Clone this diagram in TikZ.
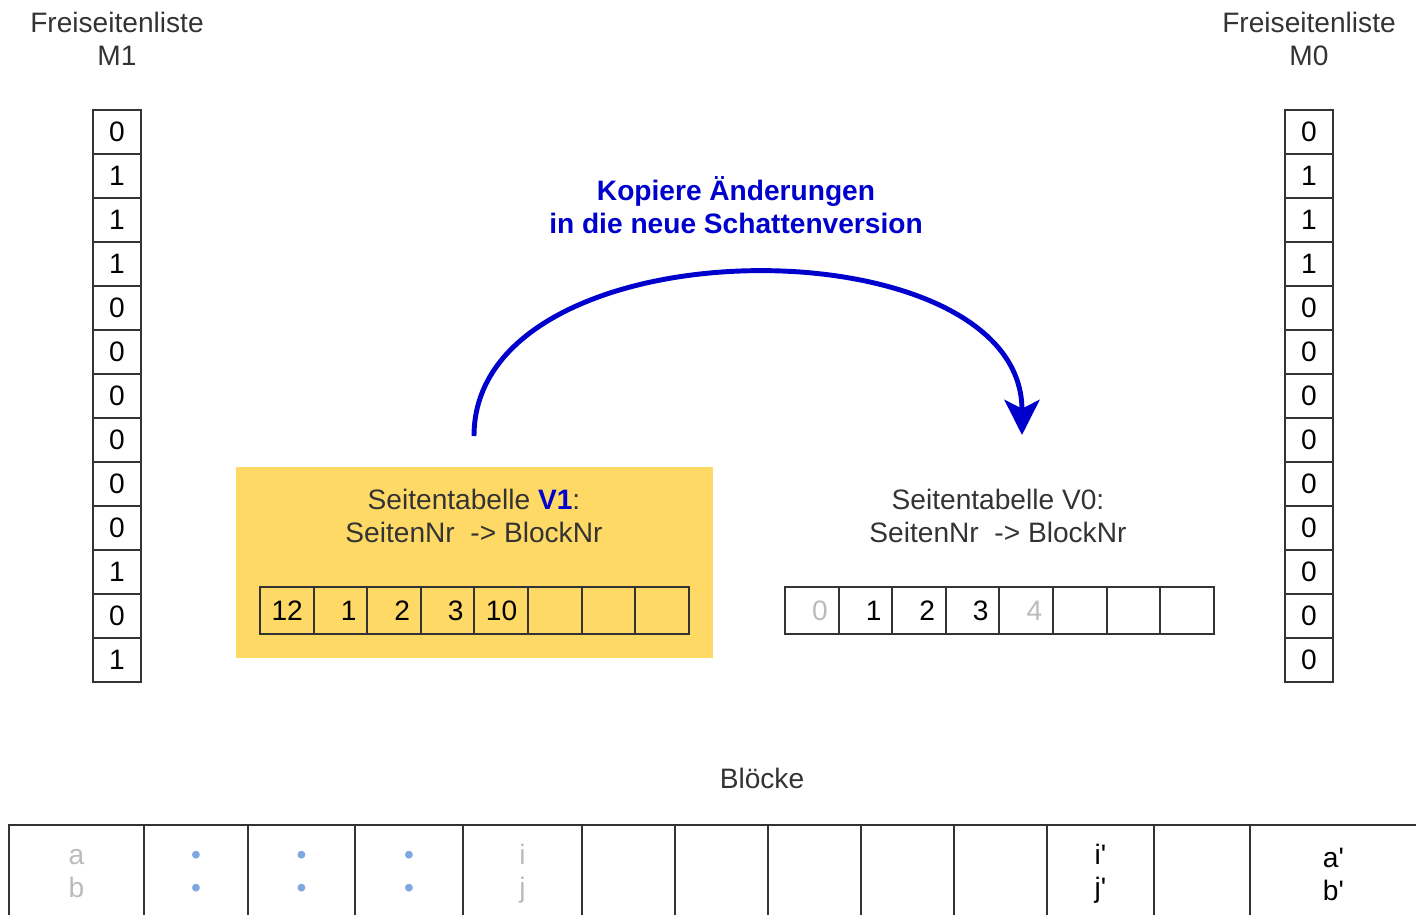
\documentclass[tikz,border=0pt]{standalone}
\usepackage{fontspec}
\setmainfont{Liberation Sans}[Ligatures=TeXOff]
\usetikzlibrary{positioning, arrows.meta}

\definecolor{tabyellow}{HTML}{FFD966}
\definecolor{copyblue}{HTML}{0000CC}
\definecolor{fadegray}{HTML}{BBBBBB}
\definecolor{dotblue}{HTML}{7EA6E0}
\definecolor{lineclr}{HTML}{333333}

\newcommand{\bdot}{\textcolor{dotblue}{\fontsize{8}{9.4}\selectfont•}}

\begin{document}
\begin{tikzpicture}[
  font=\fontsize{8}{9.4}\selectfont,
  bit/.style={rectangle, draw=lineclr, line width=0.6pt, minimum width=0.48cm,
              minimum height=0.44cm, inner sep=0pt, outer sep=0pt},
  slot/.style={rectangle, draw=lineclr, line width=0.6pt, minimum width=0.536cm,
               minimum height=0.47cm, inner sep=0pt, outer sep=0pt,
               text width=0.32cm, align=right},
  blk/.style={rectangle, draw=lineclr, line width=0.6pt, minimum height=0.98cm,
              inner sep=0pt, outer sep=0pt, align=center},
  title/.style={align=center, text=black!80},
  copyarr/.style={-{Stealth[length=10pt, width=10pt, inset=2.5pt]}, line width=1.4pt, copyblue},
]
\useasboundingbox (0,0) rectangle (14.16,-9.15);

% Freiseitenlisten
\node[title] (m1title) at (1.17,-0.39) {Freiseitenliste\\M1};
\node[title] (m0title) at (13.09,-0.39) {Freiseitenliste\\M0};
\foreach \v [count=\k from 0] in {0,1,1,1,0,0,0,0,0,0,1,0,1}
  \node[bit] (m1-\k) at (1.17,{-1.32-0.44*\k}) {\v};
\foreach \v [count=\k from 0] in {0,1,1,1,0,0,0,0,0,0,0,0,0}
  \node[bit] (m0-\k) at (13.09,{-1.32-0.44*\k}) {\v};

% Seitentabelle V1 (neu)
\node[fill=tabyellow, minimum width=4.77cm, minimum height=1.91cm] (v1box) at (4.745,-5.625) {};
\node[title] (v1title) at (4.74,-5.155) {Seitentabelle \textbf{\textcolor{copyblue}{V1}}:\\SeitenNr\ \ -> BlockNr};
\foreach \v [count=\k from 0] in {12,1,2,3,10,,,}
  \node[slot] (v1-\k) at ({2.868+0.536*\k},-6.105) {\v};

% Seitentabelle V0 (Schatten)
\node[title] (v0title) at (9.98,-5.155) {Seitentabelle V0:\\SeitenNr\ \ -> BlockNr};
\foreach \v [count=\k from 0] in {\textcolor{fadegray}{0},1,2,3,\textcolor{fadegray}{4},,,}
  \node[slot] (v0-\k) at ({8.118+0.536*\k},-6.105) {\v};

% Kopieren
\coordinate (cpstart) at (4.74,-4.36);
\coordinate (cpend) at (10.22,-4.35);
\draw[copyarr] (cpstart) .. controls (4.74,-2.2) and (10.22,-2.2) .. (cpend);
\node[align=center, text=copyblue, font=\fontsize{8}{9.4}\selectfont\bfseries] (cplabel) at (7.36,-2.055)
  {Kopiere Änderungen\\in die neue Schattenversion};

% Bloecke
\node[title] (blktitle) at (7.62,-7.78) {Blöcke};
\foreach \l/\r/\t [count=\k] in {
    0.09/1.44/{\textcolor{fadegray}{a}\\\textcolor{fadegray}{b}},
    1.44/2.48/{\bdot\\\bdot},
    2.48/3.55/{\bdot\\\bdot},
    3.55/4.63/{\bdot\\\bdot},
    4.63/5.82/{\textcolor{fadegray}{i}\\\textcolor{fadegray}{j}},
    5.82/6.75/{}, 6.75/7.68/{}, 7.68/8.61/{}, 8.61/9.54/{}, 9.54/10.47/{},
    10.47/11.54/{i'\\j'},
    11.54/12.50/{},
    12.50/14.17/{a'\\b'}} {
  \pgfmathsetmacro\w{\r-\l}
  \pgfmathsetmacro\c{(\l+\r)/2}
  \node[blk, minimum width=\w cm] (blk\k) at (\c,-8.74) {\t};
}
\end{tikzpicture}
\end{document}
